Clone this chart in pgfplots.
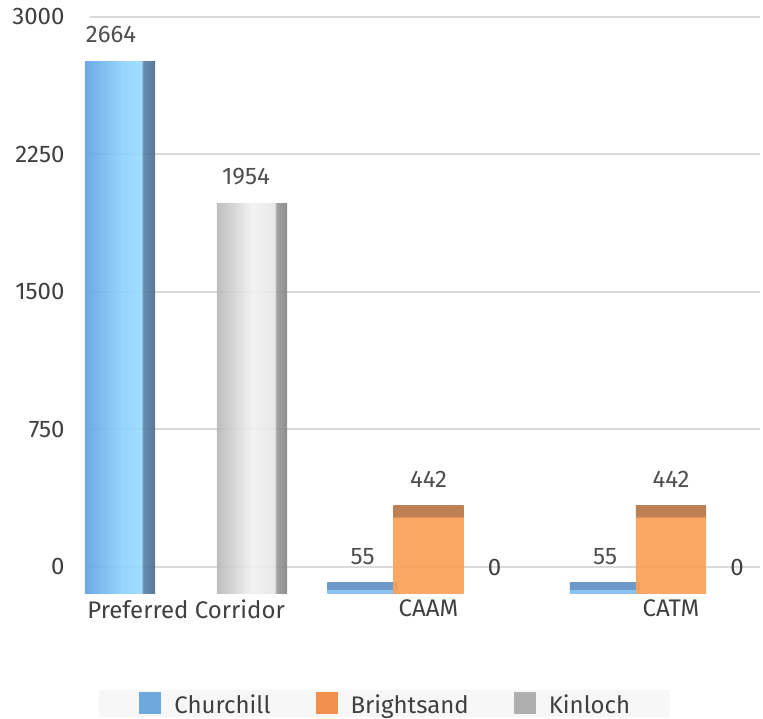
\documentclass[border=0pt]{standalone}
\usepackage{pgfplots}
\usepackage{pgfplotstable}
\pgfplotsset{compat=1.18}
\usepackage{fontspec}
\setmainfont{Fira Sans}

\definecolor{textgray}{HTML}{404040}
\definecolor{gridgray}{HTML}{DADADA}
\definecolor{legendbg}{HTML}{F7F7F7}
\definecolor{cblue}{HTML}{6FA8DC}
\definecolor{corange}{HTML}{F0904C}
\definecolor{cgray}{HTML}{AFAFAF}

% colour stops for the bar faces (front gradient, then the darker side face)
\definecolor{bl1}{HTML}{60A2E2}
\definecolor{bl2}{HTML}{8FD2FF}
\definecolor{bl3}{HTML}{9ADAFF}
\definecolor{bl4}{HTML}{5A84A8}
\definecolor{bl5}{HTML}{4C6C8C}
\definecolor{bt1}{HTML}{80BEF0}
\definecolor{bt2}{HTML}{6090C2}
\definecolor{gr1}{HTML}{B8B8B8}
\definecolor{gr2}{HTML}{F2F2F2}
\definecolor{gr3}{HTML}{E6E6E6}
\definecolor{gr4}{HTML}{9A9A9A}
\definecolor{gr5}{HTML}{848484}
\definecolor{or1}{HTML}{FBA158}
\definecolor{or2}{HTML}{B87444}

\pgfdeclarehorizontalshading{blueshade}{100bp}{color(0bp)=(bl1); color(25bp)=(bl1); color(52bp)=(bl2); color(65bp)=(bl3); color(66.5bp)=(bl4); color(75bp)=(bl5); color(100bp)=(bl5)}
\pgfdeclareverticalshading{bluelow}{100bp}{color(0bp)=(bt1); color(25bp)=(bt1); color(44bp)=(bt1); color(47bp)=(bt2); color(75bp)=(bt2); color(100bp)=(bt2)}
\pgfdeclarehorizontalshading{grayshade}{100bp}{color(0bp)=(gr1); color(25bp)=(gr1); color(50bp)=(gr2); color(66bp)=(gr3); color(67.5bp)=(gr4); color(75bp)=(gr5); color(100bp)=(gr5)}
\pgfdeclareverticalshading{orangeshade}{100bp}{color(0bp)=(or1); color(25bp)=(or1); color(68bp)=(or1); color(69bp)=(or2); color(75bp)=(or2); color(100bp)=(or2)}

\pgfplotstableread{
x y
0 2664
1 55
2 55
}\churchill
\pgfplotstableread{
x y
1 442
2 442
}\brightsand
\pgfplotstableread{
x y
0 1954
1 0
2 0
}\kinloch

\pgfplotsset{
  every axis/.append style={font=\fontsize{24pt}{28pt}\selectfont},
  chartframe/.style={
    anchor=south west, scale only axis, width=670pt,
    xmin=-0.396, xmax=2.367, ymin=0, ymax=3000,
    axis line style={draw=none}, major tick length=0pt,
    /pgf/number format/1000 sep={},
    /pgf/number format/assume math mode=true,
    tick label style={text=textgray},
  },
  solidbar/.style={ybar, bar shift=0pt, draw=none, shade, fill opacity=0.92,
    nodes near coords, forget plot},
}

\begin{document}
\begin{tikzpicture}
\useasboundingbox (0,0) rectangle (763pt,719pt);

% back wall: value grid and y tick labels
\begin{axis}[
  chartframe,
  at={(90pt,152pt)}, height=550pt,
  xtick=\empty,
  ytick={0,750,1500,2250,3000},
  ymajorgrids,
  grid style={draw=gridgray, line width=2pt},
  yticklabel style={xshift=-22pt},
]
\end{axis}

% front: the bars, one plot per bar so each gets its own shading
\begin{axis}[
  chartframe,
  at={(90pt,125pt)}, height=600pt,
  clip=false,
  ytick=\empty,
  xtick={0,1,2},
  xticklabels={Preferred Corridor, CAAM, CATM},
  xticklabel style={yshift=-2pt},
  bar width=0.29,
  every node near coord/.append style={text=textgray, yshift=15pt},
  legend columns=3,
  legend style={
    at={(0.440,-0.1825)}, anchor=center,
    draw=none, fill=legendbg,
    inner xsep=40pt, inner ysep=2pt,
    nodes={inner sep=0pt, text=textgray},
    /tikz/every odd column/.append style={column sep=13pt},
    /tikz/every even column/.append style={column sep=45pt},
  },
  legend image code/.code={\fill[#1] (0pt,-9pt) rectangle (22pt,13pt);},
]
% Churchill
\addplot[solidbar, shading=blueshade, restrict x to domain=-0.5:0.5,
  every node near coord/.append style={xshift=-9pt}]
  table[x expr=\thisrow{x}-0.272, y=y] {\churchill};
\addplot[solidbar, shading=bluelow, restrict x to domain=0.5:1.5]
  table[x expr=\thisrow{x}-0.272, y=y] {\churchill};
\addplot[solidbar, shading=bluelow, restrict x to domain=1.5:2.5]
  table[x expr=\thisrow{x}-0.272, y=y] {\churchill};
% Brightsand
\addplot[solidbar, shading=orangeshade, restrict x to domain=0.5:1.5]
  table[x=x, y=y] {\brightsand};
\addplot[solidbar, shading=orangeshade, restrict x to domain=1.5:2.5]
  table[x=x, y=y] {\brightsand};
% Kinloch
\addplot[solidbar, shading=grayshade, restrict x to domain=-0.5:0.5,
  every node near coord/.append style={xshift=-6pt}]
  table[x expr=\thisrow{x}+0.272, y=y] {\kinloch};
\addplot[ybar, bar shift=0pt, draw=none, fill=none, nodes near coords,
  forget plot, restrict x to domain=0.5:2.5]
  table[x expr=\thisrow{x}+0.272, y=y] {\kinloch};

\addlegendimage{fill=cblue, draw=none}
\addlegendentry{Churchill}
\addlegendimage{fill=corange, draw=none}
\addlegendentry{Brightsand}
\addlegendimage{fill=cgray, draw=none}
\addlegendentry{Kinloch}
\end{axis}
\end{tikzpicture}
\end{document}
